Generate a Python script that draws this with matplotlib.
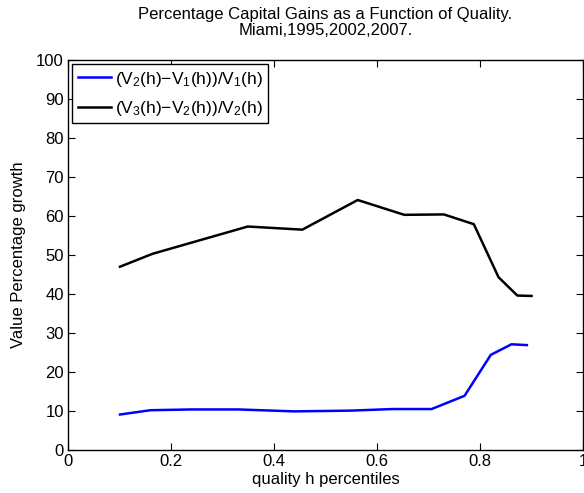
import matplotlib
matplotlib.use('Agg')
from matplotlib import pyplot as plt

# quality percentiles and percentage growth
q_a = [0.101, 0.160, 0.240, 0.330, 0.440, 0.550, 0.630, 0.706, 0.770, 0.821, 0.861, 0.891]
growth_a = [9.1, 10.2, 10.4, 10.4, 9.9, 10.1, 10.5, 10.5, 13.9, 24.4, 27.1, 26.9]

q_b = [0.101, 0.164, 0.349, 0.455, 0.5625, 0.653, 0.730, 0.788, 0.836, 0.8725, 0.900]
growth_b = [47.0, 50.3, 57.3, 56.5, 64.1, 60.3, 60.4, 57.9, 44.3, 39.6, 39.5]

plt.rcParams['font.family'] = ['Liberation Sans', 'DejaVu Sans']
plt.rcParams['mathtext.fontset'] = 'custom'
plt.rcParams['mathtext.rm'] = 'Liberation Sans'
plt.rcParams['mathtext.it'] = 'Liberation Sans'
plt.rcParams['mathtext.default'] = 'regular'

fig = plt.figure(figsize=(5.84, 4.93), dpi=100)
ax = fig.add_axes([68/584, 43/493, 515/584, 390/493])

ax.plot(q_a, growth_a, color='blue', linewidth=1.8, label='$(V_2(h){-}V_1(h))/V_1(h)$')
ax.plot(q_b, growth_b, color='black', linewidth=1.8, label='$(V_3(h){-}V_2(h))/V_2(h)$')

ax.set_xlim(0, 1)
ax.set_ylim(0, 100)
ax.set_xticks([0, 0.2, 0.4, 0.6, 0.8, 1])
ax.set_xticklabels(['0', '0.2', '0.4', '0.6', '0.8', '1'])
ax.set_yticks(range(0, 101, 10))
ax.tick_params(direction='in', top=True, right=True, length=5, labelsize=12, pad=3)
for s in ax.spines.values():
    s.set_linewidth(1.0)

ax.set_title('Percentage Capital Gains as a Function of Quality.\nMiami,1995,2002,2007.',
             fontsize=12, linespacing=1.05, pad=18)
ax.set_xlabel('quality h percentiles', fontsize=12, labelpad=2)
ax.set_ylabel('Value Percentage growth', fontsize=12, labelpad=7)

leg = ax.legend(loc='upper left', fontsize=12.5, fancybox=False, framealpha=1,
                edgecolor='black', borderaxespad=0.25, handlelength=1.9,
                handletextpad=0.25, borderpad=0.3, labelspacing=0.6)
leg.get_frame().set_linewidth(1.0)

fig.savefig('out.png', dpi=100)
